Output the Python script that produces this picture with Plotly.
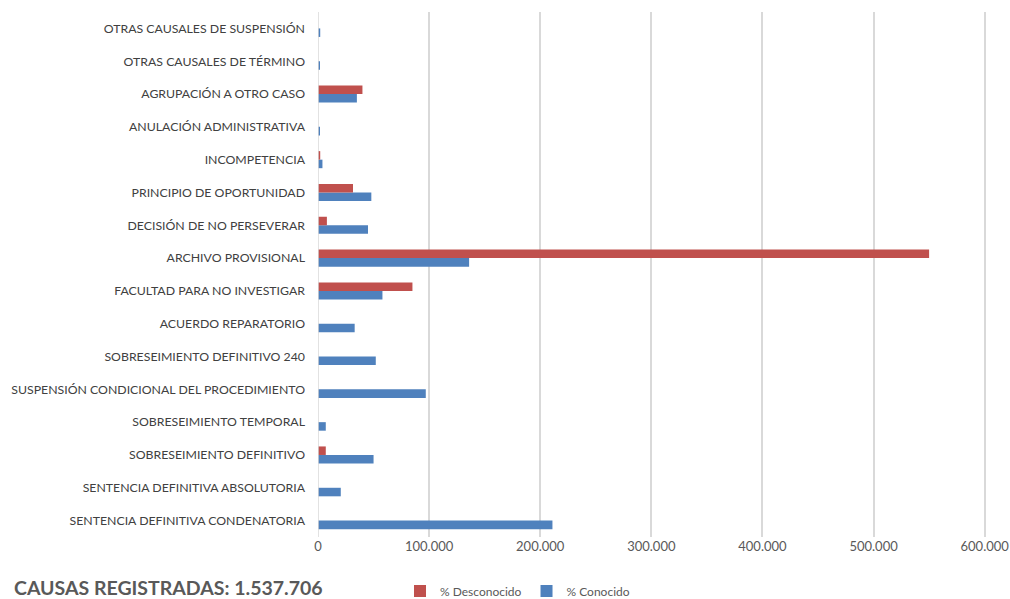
import plotly.graph_objects as go

categories = [
    "SENTENCIA DEFINITIVA CONDENATORIA",
    "SENTENCIA DEFINITIVA ABSOLUTORIA",
    "SOBRESEIMIENTO DEFINITIVO",
    "SOBRESEIMIENTO TEMPORAL",
    "SUSPENSIÓN CONDICIONAL DEL PROCEDIMIENTO",
    "SOBRESEIMIENTO DEFINITIVO 240",
    "ACUERDO REPARATORIO",
    "FACULTAD PARA NO INVESTIGAR",
    "ARCHIVO PROVISIONAL",
    "DECISIÓN DE NO PERSEVERAR",
    "PRINCIPIO DE OPORTUNIDAD",
    "INCOMPETENCIA",
    "ANULACIÓN ADMINISTRATIVA",
    "AGRUPACIÓN A OTRO CASO",
    "OTRAS CAUSALES DE TÉRMINO",
    "OTRAS CAUSALES DE SUSPENSIÓN",
]
conocido = [211000, 20500, 50000, 7000, 97000, 52000, 33000, 58000, 136000,
            45000, 48000, 4000, 1000, 35000, 1000, 2000]
desconocido = [0, 0, 7000, 0, 0, 0, 0, 85000, 550000,
               8000, 31500, 2000, 0, 40000, 0, 0]
tick_vals = [0, 100000, 200000, 300000, 400000, 500000, 600000]

BLUE = "#4F81BD"
RED = "#C0504D"
FONT = "Lato"

L, R, T, B = 318, 22, 12, 62
PW = 1010 - L - R
PH = 599 - T - B

fig = go.Figure()
fig.add_trace(go.Bar(y=categories, x=conocido, orientation="h", name="% Conocido",
                     marker=dict(color=BLUE, line=dict(width=0)), legendrank=2))
fig.add_trace(go.Bar(y=categories, x=desconocido, orientation="h", name="% Desconocido",
                     marker=dict(color=RED, line=dict(width=0)), legendrank=1))

fig.update_layout(
    width=1010, height=599,
    margin=dict(l=L, r=R, t=T, b=B, autoexpand=False),
    paper_bgcolor="white", plot_bgcolor="white",
    barmode="group", bargap=0.48, bargroupgap=0,
    separators=",.",
    font=dict(family=FONT, color="#404040", size=13),
    showlegend=True,
    legend=dict(orientation="h", x=(400 - L) / PW, xanchor="left", y=(537 - 591) / PH,
                yanchor="middle",
                font=dict(family=FONT, size=12, color="#595959"),
                itemwidth=30, traceorder="normal"),
    xaxis=dict(range=[0, 603000], tickvals=tick_vals, tickformat=",d",
               showgrid=True, gridcolor="#D9D9D9", gridwidth=1.5,
               zeroline=False, showline=False, automargin=False,
               tickfont=dict(family=FONT, size=13, color="#595959"), ticks=""),
    yaxis=dict(type="category", categoryorder="array", categoryarray=categories,
               showgrid=False, zeroline=False, showline=False, ticks="",
               automargin=False, ticklabelstandoff=12,
               tickfont=dict(family=FONT, size=12.3, color="#404040")),
    annotations=[dict(text="<b>CAUSAS REGISTRADAS: 1.537.706</b>", xref="paper", yref="paper",
                      x=(12 - L) / PW, y=(537 - 587) / PH, xanchor="left", yanchor="middle",
                      showarrow=False,
                      font=dict(family=FONT, size=19.5, color="#595959"))],
)
fig.add_shape(type="line", xref="x", yref="paper", x0=0, x1=0, y0=0, y1=1,
              line=dict(color="#D9D9D9", width=1.5))

fig.write_html("out.html")
